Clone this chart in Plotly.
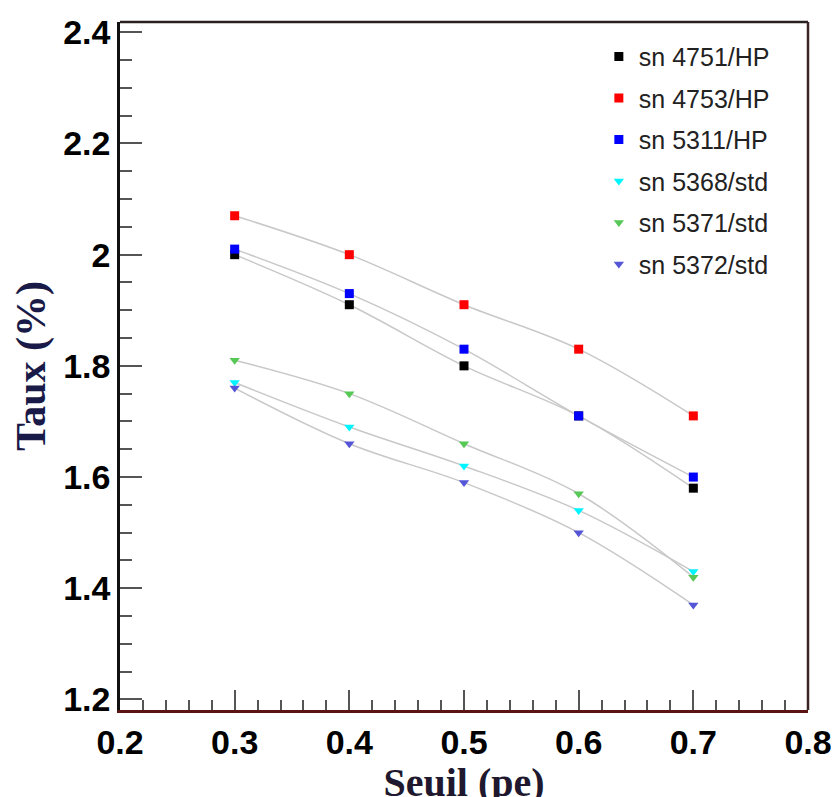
import plotly.graph_objects as go

seuil = [0.3, 0.4, 0.5, 0.6, 0.7]

names = ["sn 4751/HP", "sn 4753/HP", "sn 5311/HP", "sn 5368/std", "sn 5371/std", "sn 5372/std"]
taux_4751 = [2.00, 1.91, 1.80, 1.71, 1.58]
taux_4753 = [2.07, 2.00, 1.91, 1.83, 1.71]
taux_5311 = [2.01, 1.93, 1.83, 1.71, 1.60]
taux_5368 = [1.77, 1.69, 1.62, 1.54, 1.43]
taux_5371 = [1.81, 1.75, 1.66, 1.57, 1.42]
taux_5372 = [1.76, 1.66, 1.59, 1.50, 1.37]
series = [taux_4751, taux_4753, taux_5311, taux_5368, taux_5371, taux_5372]

colors = ["#000000", "#ff0000", "#0000ff", "#00f5ff", "#55c855", "#5555d8"]
symbols = ["square", "square", "square", "triangle-down", "triangle-down", "triangle-down"]

x_tick_vals = [0.2, 0.3, 0.4, 0.5, 0.6, 0.7, 0.8]
x_tick_text = ["0.2", "0.3", "0.4", "0.5", "0.6", "0.7", "0.8"]
y_tick_vals = [1.2, 1.4, 1.6, 1.8, 2.0, 2.2, 2.4]
y_tick_text = ["1.2", "1.4", "1.6", "1.8", "2", "2.2", "2.4"]

fig = go.Figure()

# smooth gray connecting curves
for ys in series:
    fig.add_trace(go.Scatter(
        x=seuil, y=ys, mode="lines",
        line=dict(color="#c8c8c8", width=1.5, shape="spline", smoothing=1.0),
        showlegend=False, hoverinfo="skip"))

for i, (name, ys) in enumerate(zip(names, series)):
    fig.add_trace(go.Scatter(
        x=seuil, y=ys, mode="markers", name=name,
        legendgroup=f"g{i}",
        marker=dict(color=colors[i], symbol=symbols[i], size=9, line=dict(width=0))))

tickfont = dict(family="Liberation Sans", size=34, color="#000000", weight="bold")

# the page body adds an 8px offset, so margins are shifted to compensate
fig.update_layout(
    width=839, height=797,
    margin=dict(l=112, r=39, t=14, b=95),
    plot_bgcolor="white", paper_bgcolor="white",
    showlegend=True,
    legend=dict(x=0.696, y=0.983, xanchor="left", yanchor="top",
                bgcolor="rgba(0,0,0,0)", tracegroupgap=6,
                font=dict(family="Liberation Sans", size=25, color="#222222")),
    xaxis=dict(range=[0.2, 0.8], tickmode="array", tickvals=x_tick_vals, ticktext=x_tick_text,
               ticks="inside", ticklen=20, tickwidth=1.5, tickcolor="#555555",
               minor=dict(tickmode="linear", tick0=0.2, dtick=0.02, ticks="inside",
                          ticklen=10, tickwidth=1.5, tickcolor="#555555"),
               showgrid=False, zeroline=False, automargin=False,
               showline=True, linecolor="#5a1414", linewidth=2.5,
               tickfont=tickfont,
               title=dict(text="Seuil (pe)",
                          font=dict(family="Liberation Serif", size=40, weight="bold", color="#20182e"),
                          standoff=9)),
    yaxis=dict(range=[1.181, 2.4185], tickmode="array", tickvals=y_tick_vals, ticktext=y_tick_text,
               ticks="inside", ticklen=22, tickwidth=1.5, tickcolor="#555555",
               minor=dict(tickmode="linear", tick0=1.2, dtick=0.05, ticks="inside",
                          ticklen=12, tickwidth=1.5, tickcolor="#555555"),
               showgrid=False, zeroline=False, automargin=False,
               showline=True, linecolor="#111111", linewidth=2.5,
               tickfont=tickfont,
               title=dict(text="Taux (%)",
                          font=dict(family="Liberation Serif", size=42, weight="bold", color="#1a1a48"),
                          standoff=12)),
)

# top and right frame lines
fig.add_shape(type="line", xref="paper", yref="paper", x0=0, x1=1, y0=1, y1=1,
              line=dict(color="#2a2020", width=2.5))
fig.add_shape(type="line", xref="paper", yref="paper", x0=1, x1=1, y0=0, y1=1,
              line=dict(color="#3a2424", width=2.5))

fig.write_html("out.html")
